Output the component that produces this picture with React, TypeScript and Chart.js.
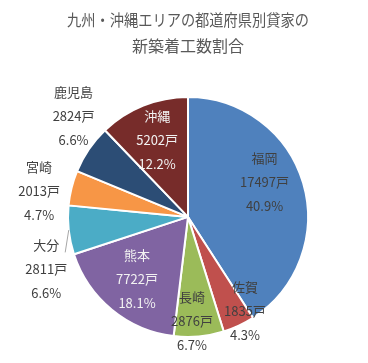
import React, { useEffect, useRef } from "react";
import { Chart, registerables } from "chart.js";

Chart.register(...registerables);

const categories = ["福岡", "佐賀", "長崎", "熊本", "大分", "宮崎", "鹿児島", "沖縄"];
const values = [17497, 1835, 2876, 7722, 2811, 2013, 2824, 5202];
const colors = ["#4F81BD", "#C0504D", "#9BBB59", "#8064A2", "#4BACC6", "#F79646", "#2C4D75", "#772C2A"];
const labelColors = ["#404040", "#404040", "#404040", "#F2F2F2", "#404040", "#404040", "#404040", "#F2F2F2"];
// label placement: radial factor of outer radius, angular tweak in degrees
const labelFactor = [0.7, 0.92, 0.87, 0.67, 1.26, 1.26, 1.27, 0.69];
const labelAngle = [-8, -6, 3, 0, -14, -4, 7, 0];
const leaderLines = [false, false, false, false, true, false, false, false];
const titleLines = ["九州・沖縄エリアの都道府県別貸家の", "新築着工数割合"];

const FONT = '"Noto Sans CJK JP", "Noto Sans", sans-serif';

const labelPlugin = {
  id: "pieLabels",
  afterDatasetsDraw(chart: any) {
    const ctx = chart.ctx;
    const meta = chart.getDatasetMeta(0);
    const total = values.reduce((a, b) => a + b, 0);
    ctx.save();
    ctx.font = `13px ${FONT}`;
    ctx.textAlign = "center";
    ctx.textBaseline = "middle";
    meta.data.forEach((arc: any, i: number) => {
      const p = arc.getProps(["x", "y", "startAngle", "endAngle", "outerRadius"], true);
      const mid = (p.startAngle + p.endAngle) / 2 + (labelAngle[i] * Math.PI) / 180;
      const r = p.outerRadius * labelFactor[i];
      const lx = p.x + Math.cos(mid) * r;
      const ly = p.y + Math.sin(mid) * r;
      if (leaderLines[i]) {
        const m0 = (p.startAngle + p.endAngle) / 2;
        ctx.strokeStyle = "#A6A6A6";
        ctx.lineWidth = 1;
        ctx.beginPath();
        ctx.moveTo(p.x + Math.cos(m0) * p.outerRadius, p.y + Math.sin(m0) * p.outerRadius);
        ctx.lineTo(lx + 19, ly - 17);
        ctx.stroke();
      }
      ctx.fillStyle = labelColors[i];
      const pct = ((values[i] / total) * 100).toFixed(1) + "%";
      ctx.fillText(categories[i], lx, ly - 24);
      ctx.fillText(values[i] + "戸", lx, ly);
      ctx.fillText(pct, lx, ly + 24);
    });
    ctx.restore();
  },
};

export default function App() {
  const ref = useRef<HTMLCanvasElement>(null);
  useEffect(() => {
    if (!ref.current) return;
    const chart = new Chart(ref.current, {
      type: "pie",
      data: {
        labels: categories,
        datasets: [
          {
            data: values,
            backgroundColor: colors,
            borderColor: "#FFFFFF",
            borderWidth: 2,
          },
        ],
      },
      options: {
        responsive: false,
        animation: false,
        layout: { padding: { left: 67, right: 59, top: 0, bottom: 25 } },
        plugins: {
          legend: { display: false },
          tooltip: { enabled: false },
          title: {
            display: true,
            text: titleLines,
            color: "#595959",
            font: { family: FONT, size: 16, weight: "normal", lineHeight: 1.62 },
            padding: { top: 7, bottom: 37 },
          },
        },
      },
      plugins: [labelPlugin],
    });
    return () => chart.destroy();
  }, []);
  return (
    <div style={{ position: "fixed", left: 0, top: 0, width: 368, height: 363, background: "#fff" }}>
      <canvas ref={ref} width={368} height={363} />
    </div>
  );
}
